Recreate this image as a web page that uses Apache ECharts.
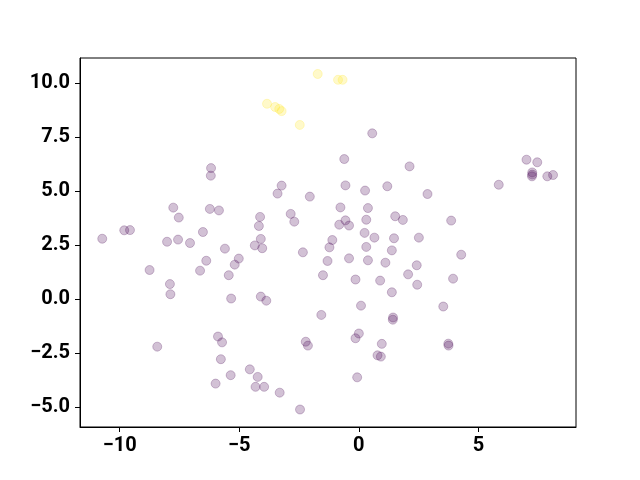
<!DOCTYPE html>
<html><head><meta charset="utf-8">
<script src="https://cdn.jsdelivr.net/npm/echarts@6/dist/echarts.min.js"></script>
<style>html,body{margin:0;padding:0;background:#fff}#c{width:640px;height:480px}</style>
</head><body><div id="c"></div>
<script>
const yellowX = [-1.72,-0.87,-0.68,-3.84,-3.50,-3.33,-3.23,-2.47];
const yellowY = [10.42,10.15,10.15,9.04,8.89,8.80,8.70,8.06];
const purpleX = [0.56,-0.61,2.12,7.01,7.46,7.25,7.25,7.24,7.88,8.12,5.85,-6.18,-6.19,-3.23,-3.40,-2.05,-0.56,0.26,1.19,2.87,
 -7.76,-7.53,-6.23,-5.85,-4.13,-4.18,-2.85,-2.70,-0.77,0.38,-0.82,-0.56,-0.41,0.31,1.52,1.84,3.86,
 -9.81,-9.57,-10.73,-8.02,-7.56,-7.06,-6.52,-5.60,-4.35,-4.10,-4.04,-2.34,-1.11,-1.23,0.24,0.65,1.47,2.51,0.31,1.38,4.28,
 -8.75,-6.64,-6.38,-5.19,-5.02,-5.44,-7.90,-7.88,-5.34,-4.10,-3.87,-1.31,-0.41,0.38,1.11,2.42,2.06,2.44,3.94,-1.50,-0.14,0.89,1.38,
 0.09,3.53,-1.57,1.43,1.42,-8.43,-5.89,-5.72,-5.77,-2.22,-2.13,0.00,-0.14,0.96,3.74,3.75,0.78,0.92,
 -4.56,-4.23,-5.36,-5.99,-4.32,-3.96,-3.31,-0.07,-2.46];
const purpleY = [7.67,6.48,6.14,6.45,6.33,5.86,5.76,5.68,5.68,5.74,5.29,6.06,5.71,5.25,4.88,4.74,5.26,5.02,5.22,4.86,
 4.23,3.77,4.17,4.10,3.80,3.38,3.94,3.58,4.24,4.21,3.44,3.64,3.40,3.67,3.83,3.66,3.63,
 3.18,3.19,2.79,2.65,2.75,2.59,3.10,2.33,2.48,2.78,2.35,2.16,2.73,2.39,3.06,2.84,2.81,2.84,2.41,2.25,2.05,
 1.34,1.31,1.77,1.59,1.87,1.10,0.69,0.22,0.02,0.11,-0.08,1.76,1.88,1.79,1.68,1.56,1.14,0.66,0.94,1.10,0.90,0.85,0.31,
 -0.31,-0.35,-0.74,-0.86,-0.96,-2.21,-1.74,-2.01,-2.79,-1.98,-2.16,-1.60,-1.82,-2.08,-2.07,-2.16,-2.61,-2.67,
 -3.26,-3.61,-3.53,-3.92,-4.07,-4.07,-4.34,-3.63,-5.12];
const xTicks = [-10,-5,0,5];
const yTicks = [-5,-2.5,0,2.5,5,7.5,10];

const zip = (a,b)=>a.map((v,i)=>[v,b[i]]);
const fmt = s => s.replace('-', '\u2212');
const chart = echarts.init(document.getElementById('c'), null, {renderer:'canvas'});
const lblFont = {color:'#000', fontFamily:'Roboto', fontWeight:'bold', fontSize:20};
const axLine = {show:true,onZero:false,lineStyle:{color:'#000',width:1}};
chart.setOption({
  animation:false,
  grid:{left:80,right:64,top:58,bottom:53,show:true,borderColor:'#000',borderWidth:1,backgroundColor:'transparent'},
  xAxis:{type:'value',min:-11.66,max:9.08,
    axisLine:axLine,splitLine:{show:false},
    axisTick:{show:true,length:5,lineStyle:{color:'#000',width:1},customValues:xTicks},
    axisLabel:Object.assign({margin:9,customValues:xTicks,formatter:v=>fmt(String(v))},lblFont)},
  yAxis:{type:'value',min:-5.93,max:11.16,
    axisLine:axLine,splitLine:{show:false},
    axisTick:{show:true,length:5,lineStyle:{color:'#000',width:1},customValues:yTicks},
    axisLabel:Object.assign({margin:10,padding:[4,0,0,0],customValues:yTicks,formatter:v=>fmt(v.toFixed(1))},lblFont)},
  series:[
    {type:'scatter',data:zip(purpleX,purpleY),symbolSize:9,
      itemStyle:{color:'rgba(68,1,84,0.3)',borderColor:'rgba(68,1,84,0.3)',borderWidth:1}},
    {type:'scatter',data:zip(yellowX,yellowY),symbolSize:9,
      itemStyle:{color:'rgba(253,231,37,0.3)',borderColor:'rgba(253,231,37,0.3)',borderWidth:1}}
  ]
});
</script></body></html>
